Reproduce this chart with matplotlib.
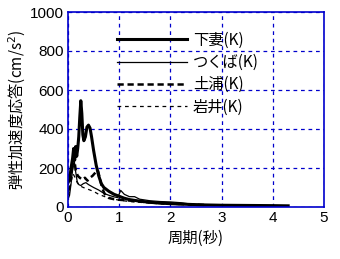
import matplotlib
matplotlib.use("Agg")
import matplotlib.pyplot as plt

plt.rcParams['font.family'] = ['Noto Sans CJK JP', 'DejaVu Sans']

# 下妻(K) thick solid
t_shimotsuma = [0.0, 0.03, 0.06, 0.09, 0.11, 0.13, 0.15, 0.17, 0.19, 0.21, 0.23, 0.25, 0.27, 0.29, 0.31, 0.34, 0.37, 0.40, 0.43, 0.46, 0.5, 0.55, 0.6, 0.65, 0.7, 0.8, 0.9, 1.0, 1.1, 1.2, 1.4, 1.6, 1.8, 2.0, 2.3, 2.6, 3.0, 3.5, 4.0, 4.3]
v_shimotsuma = [125, 140, 200, 250, 300, 240, 310, 260, 300, 360, 460, 545, 480, 370, 340, 360, 410, 420, 405, 360, 290, 215, 160, 120, 100, 80, 65, 55, 45, 38, 30, 24, 20, 17, 14, 11, 9, 8, 7, 6]

# つくば(K) thin solid
t_tsukuba = [0.0, 0.03, 0.06, 0.09, 0.12, 0.15, 0.18, 0.21, 0.25, 0.3, 0.35, 0.4, 0.5, 0.6, 0.7, 0.8, 0.9, 0.97, 1.03, 1.1, 1.2, 1.3, 1.4, 1.6, 1.8, 2.0, 2.2, 2.4, 2.7, 3.0, 3.3]
v_tsukuba = [40, 60, 120, 190, 240, 180, 130, 115, 110, 120, 125, 115, 100, 87, 70, 60, 52, 48, 85, 65, 53, 53, 40, 32, 28, 26, 22, 15, 12, 10, 8]

# 土浦(K) thick dashed
t_tsuchiura = [0.0, 0.03, 0.06, 0.09, 0.12, 0.15, 0.19, 0.23, 0.28, 0.33, 0.38, 0.43, 0.48, 0.53, 0.58, 0.62, 0.67, 0.72, 0.8, 0.9, 1.0, 1.2, 1.4, 1.7, 2.0, 2.3, 2.7]
v_tsuchiura = [80, 100, 170, 210, 250, 190, 160, 150, 140, 150, 135, 150, 160, 175, 190, 150, 95, 65, 46, 40, 37, 33, 28, 22, 18, 14, 10]

# 岩井(K) thin dashed
t_iwai = [0.0, 0.03, 0.06, 0.1, 0.14, 0.18, 0.22, 0.26, 0.3, 0.35, 0.4, 0.5, 0.6, 0.7, 0.8, 0.9, 1.0, 1.2, 1.5, 1.8, 2.2]
v_iwai = [60, 80, 130, 170, 150, 125, 110, 105, 100, 95, 90, 80, 65, 55, 45, 40, 35, 28, 22, 16, 12]

x_ticks = [0, 1, 2, 3, 4, 5]
y_ticks = [0, 200, 400, 600, 800, 1000]

fig = plt.figure(figsize=(3.4, 2.59), dpi=100)
ax = fig.add_axes([68/340, 1-207/259, (324-68)/340, (207-12)/259])

ax.plot(t_shimotsuma, v_shimotsuma, color='black', lw=2.2, label='下妻(K)')
ax.plot(t_tsukuba, v_tsukuba, color='black', lw=0.9, label='つくば(K)')
ax.plot(t_tsuchiura, v_tsuchiura, color='black', lw=1.8, ls=(0, (2.5, 1.5)), label='土浦(K)')
ax.plot(t_iwai, v_iwai, color='black', lw=0.9, ls=(0, (3, 3)), label='岩井(K)')

ax.set_xlim(0, 5)
ax.set_ylim(0, 1000)
ax.set_xticks(x_ticks)
ax.set_yticks(y_ticks)
ax.tick_params(length=0, labelsize=11, pad=3, colors='black')
for lab in ax.get_xticklabels() + ax.get_yticklabels():
    lab.set_family(['Liberation Sans', 'DejaVu Sans'])
ax.grid(True, color='#0000cc', ls=(0, (3, 3)), lw=0.9)
for s in ax.spines.values():
    s.set_color('#0000cc')
    s.set_linewidth(1.2)

ax.set_xlabel('周期(秒)', fontsize=11, labelpad=3)
ax.set_ylabel('弾性加速度応答(cm/s$^2$)', fontsize=11, labelpad=1)

leg = ax.legend(loc='upper left', bbox_to_anchor=(0.19, 0.90), frameon=False,
                fontsize=11, handlelength=4.6, handletextpad=0.4, labelspacing=0.35,
                borderaxespad=0, borderpad=0)

fig.savefig('out.png', dpi=100)
